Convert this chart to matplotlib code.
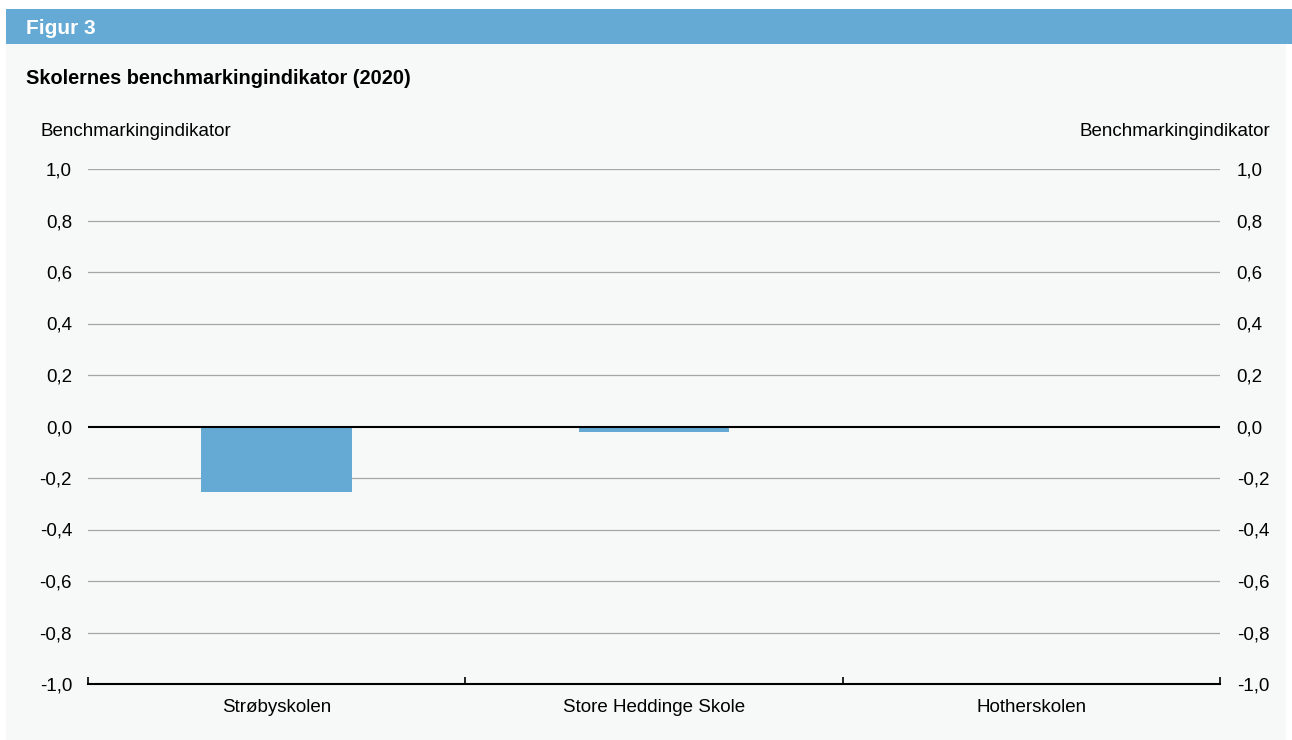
import matplotlib
matplotlib.use("Agg")
import matplotlib.pyplot as plt
from matplotlib.patches import Rectangle

plt.rcParams['font.family'] = ['Liberation Sans', 'DejaVu Sans']

categories = ["Strøbyskolen", "Store Heddinge Skole", "Hotherskolen"]
values = [-0.255, -0.02, -0.003]
yticks = [-1.0, -0.8, -0.6, -0.4, -0.2, 0.0, 0.2, 0.4, 0.6, 0.8, 1.0]
ytick_labels = ["-1,0", "-0,8", "-0,6", "-0,4", "-0,2", "0,0", "0,2", "0,4", "0,6", "0,8", "1,0"]

W, H = 1292, 740
fig = plt.figure(figsize=(W / 100, H / 100), dpi=100)
fig.patch.set_facecolor("white")

BG = "#f7f8f8"
BLUE = "#64aad5"
FS = 13.5

# panel background
fig.patches.append(Rectangle((6 / W, 0), (1286 - 6) / W, (H - 44) / H,
                             transform=fig.transFigure, facecolor=BG, edgecolor="none", zorder=-10))
# header bar
fig.patches.append(Rectangle((6 / W, 1 - 44 / H), (1292 - 6) / W, 35 / H,
                             transform=fig.transFigure, facecolor=BLUE, edgecolor="none", zorder=-10))
fig.text(26 / W, 1 - 29 / H, "Figur 3", color="white", fontsize=15, fontweight="bold", va="center", ha="left")
fig.text(26 / W, 1 - 79 / H, "Skolernes benchmarkingindikator (2020)", color="black", fontsize=14.3,
         fontweight="bold", va="center", ha="left")
fig.text(40 / W, 1 - 131 / H, "Benchmarkingindikator", fontsize=FS, va="center", ha="left")
fig.text(1270 / W, 1 - 131 / H, "Benchmarkingindikator", fontsize=FS, va="center", ha="right")

x0, x1 = 88, 1220
y_top, y_bot = 169, 684
ax = fig.add_axes([x0 / W, 1 - y_bot / H, (x1 - x0) / W, (y_bot - y_top) / H])
ax.set_facecolor("none")

n = len(categories)
xs = list(range(n))
ax.set_xlim(-0.5, n - 0.5)
ax.set_ylim(-1.0, 1.0)

for y in yticks:
    if y not in (0.0, -1.0):
        ax.axhline(y, color="#a6a6a6", lw=0.9, zorder=1)

ax.bar(xs, values, width=0.4, color=BLUE, zorder=2)
ax.axhline(0, color="black", lw=1.5, zorder=3)

for s in ["top", "right", "left"]:
    ax.spines[s].set_visible(False)
ax.spines["bottom"].set_color("black")
ax.spines["bottom"].set_linewidth(1.5)

ax.set_yticks(yticks)
ax.set_yticklabels(ytick_labels)
ax.tick_params(axis="y", length=0, labelsize=FS, pad=11.5)

ax.set_xticks([x - 0.5 for x in range(n + 1)], minor=False)
ax.set_xticklabels([""] * (n + 1))
ax.tick_params(axis="x", which="major", direction="in", length=5, width=1.2, color="black")
ax.set_xticks(xs, minor=True)
ax.set_xticklabels(categories, minor=True)
ax.tick_params(axis="x", which="minor", length=0, labelsize=FS, pad=11)

ax2 = ax.twinx()
ax2.set_ylim(-1.0, 1.0)
ax2.set_yticks(yticks)
ax2.set_yticklabels(ytick_labels)
ax2.tick_params(axis="y", length=0, labelsize=FS, pad=12)
for s in ["top", "right", "left", "bottom"]:
    ax2.spines[s].set_visible(False)

fig.savefig("out.png", dpi=100, facecolor=fig.get_facecolor())
